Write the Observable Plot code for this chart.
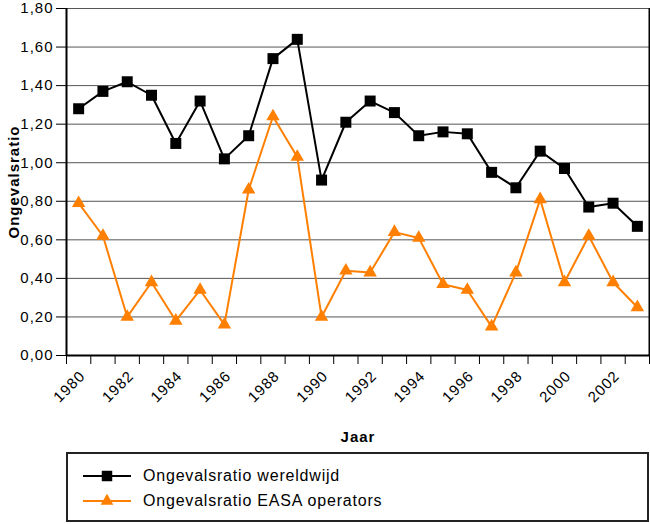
<!DOCTYPE html>
<html>
<head>
<meta charset="utf-8">
<script src="https://cdn.jsdelivr.net/npm/d3@7"></script>
<script src="https://cdn.jsdelivr.net/npm/@observablehq/plot@0.6"></script>
<style>
  body { margin: 0; background: #fff; font-family: "Liberation Sans", Arial, sans-serif; }
  #wrap { position: relative; width: 650px; height: 524px; }
  #legend { position: absolute; left: 66px; top: 452px; width: 583px; height: 70px; box-sizing: border-box; border: 2px solid #222; }
  .item { position: absolute; left: 15px; height: 20px; display: flex; align-items: center; font-size: 16px; letter-spacing: 0.8px; color: #000; }
  .item svg { margin-right: 12px; }
</style>
</head>
<body>
<div id="wrap">
  <div id="chart"></div>
  <div id="legend"></div>
</div>
<script>
const years = [1980,1981,1982,1983,1984,1985,1986,1987,1988,1989,1990,1991,1992,1993,1994,1995,1996,1997,1998,1999,2000,2001,2002,2003];
const worldwide = [1.28,1.37,1.42,1.35,1.10,1.32,1.02,1.14,1.54,1.64,0.91,1.21,1.32,1.26,1.14,1.16,1.15,0.95,0.87,1.06,0.97,0.77,0.79,0.67];
const easa = [0.79,0.62,0.20,0.38,0.18,0.34,0.16,0.86,1.24,1.03,0.20,0.44,0.43,0.64,0.61,0.37,0.34,0.15,0.43,0.81,0.38,0.62,0.38,0.25];
const yTicks = [0,0.2,0.4,0.6,0.8,1.0,1.2,1.4,1.6,1.8];
const xLabelYears = [1980,1982,1984,1986,1988,1990,1992,1994,1996,1998,2000,2002];
const seriesNames = ["Ongevalsratio wereldwijd", "Ongevalsratio EASA operators"];
const seriesColors = ["#000000", "#ff7f00"];

const wData = years.map((y, i) => ({year: y, value: worldwide[i]}));
const eData = years.map((y, i) => ({year: y, value: easa[i]}));
const boundaries = years.map(y => y - 0.5).concat([years[years.length - 1] + 0.5]);
const xDomain = [boundaries[0], boundaries[boundaries.length - 1]];
const fmt = d => d.toFixed(2).replace(".", ",");

const chart = Plot.plot({
  width: 650,
  height: 445,
  marginLeft: 66,
  marginRight: 1,
  marginTop: 8,
  marginBottom: 90,
  style: {fontFamily: "'Liberation Sans', Arial, sans-serif", fontSize: "15px", color: "#000", background: "#fff", overflow: "visible"},
  x: {domain: xDomain},
  y: {domain: [0, 1.8]},
  marks: [
    Plot.ruleY(yTicks.slice(1), {stroke: "#555", strokeWidth: 1}),
    Plot.axisY({ticks: yTicks, tickFormat: fmt, tickSize: 10, tickPadding: 3, label: "Ongevalsratio", labelAnchor: "center", labelOffset: 58, labelArrow: "none"}),
    Plot.axisX({ticks: boundaries, tickFormat: () => "", tickSize: 9, label: null}),
    Plot.axisX({ticks: xLabelYears, tickFormat: d => String(d), tickSize: 0, tickPadding: 18, dx: 4, tickRotate: -45, label: "Jaar", labelAnchor: "center", labelOffset: 86, labelArrow: "none"}),
    Plot.ruleX(xDomain, {stroke: "#000", strokeWidth: 2}),
    Plot.ruleY([0], {stroke: "#000", strokeWidth: 2}),
    Plot.line(eData, {x: "year", y: "value", stroke: seriesColors[1], strokeWidth: 2}),
    Plot.dot(eData, {x: "year", y: "value", symbol: "triangle", r: 5, fill: seriesColors[1], stroke: "none"}),
    Plot.line(wData, {x: "year", y: "value", stroke: seriesColors[0], strokeWidth: 2}),
    Plot.dot(wData, {x: "year", y: "value", symbol: "square", r: 6.2, fill: seriesColors[0], stroke: "none"})
  ]
});

d3.select(chart).selectAll("text").style("letter-spacing", "1px");
d3.select(chart).selectAll('[aria-label="y-axis label"] text, [aria-label="x-axis label"] text').attr("font-weight", "bold");
document.getElementById("chart").appendChild(chart);

// Legend
const legend = d3.select("#legend");
const symbols = ["square", "triangle"];
seriesNames.forEach((name, i) => {
  const item = legend.append("div").attr("class", "item").style("top", (12 + i * 25) + "px");
  const s = item.append("svg").attr("width", 48).attr("height", 20);
  s.append("line").attr("x1", 0).attr("x2", 48).attr("y1", 10).attr("y2", 10).attr("stroke", seriesColors[i]).attr("stroke-width", 2);
  const sym = symbols[i] === "square" ? d3.symbolSquare : d3.symbolTriangle;
  const size = symbols[i] === "square" ? 110 : 70;
  s.append("path").attr("d", d3.symbol(sym, size)()).attr("transform", "translate(24,10)").attr("fill", seriesColors[i]);
  item.append("span").text(name);
});
</script>
</body>
</html>
